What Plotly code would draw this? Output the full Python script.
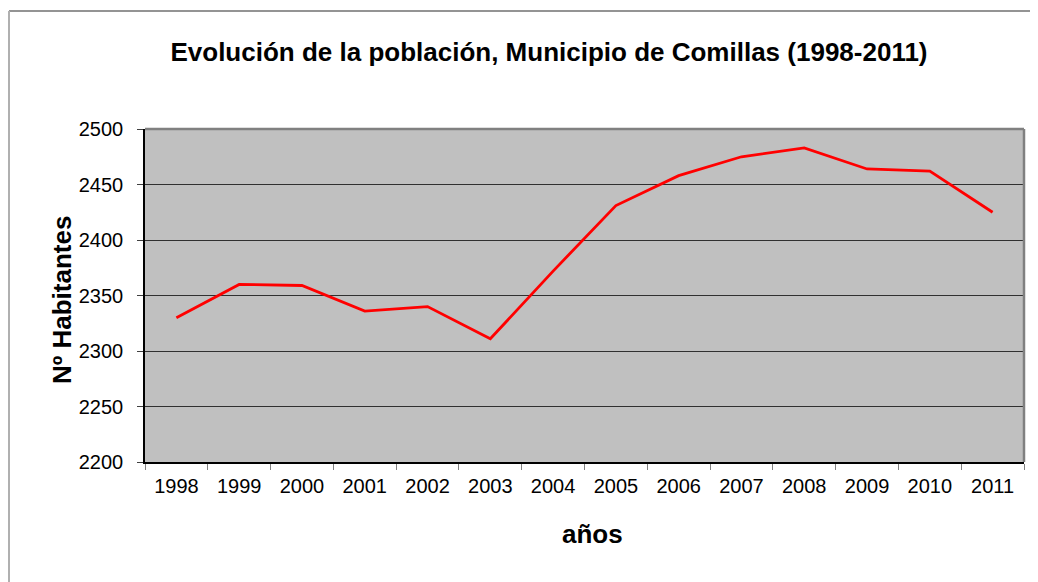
import plotly.graph_objects as go

years = ["1998", "1999", "2000", "2001", "2002", "2003", "2004",
         "2005", "2006", "2007", "2008", "2009", "2010", "2011"]
population = [2330, 2360, 2359, 2336, 2340, 2311, 2372,
              2431, 2458, 2475, 2483, 2464, 2462, 2425]
y_ticks = [2200, 2250, 2300, 2350, 2400, 2450, 2500]

# page body has an 8px margin, so figure coords = page coords - 8
OFF = 8
W, H = 1038 - OFF, 582 - OFF
L, R, T = 145 - OFF, 14, 129 - OFF
B = H - (462 - OFF)
pw, ph = W - L - R, H - T - B

font = "Liberation Sans, Arial, sans-serif"


def px_x(x):
    return (x - OFF - L) / pw


def px_y(y):
    return 1 - (y - OFF - T) / ph


fig = go.Figure()
fig.add_trace(go.Scatter(
    x=years, y=population, mode="lines",
    line=dict(color="#ff0000", width=2.8),
    showlegend=False, hoverinfo="x+y",
))

fig.update_layout(
    width=W, height=H,
    margin=dict(l=L, r=R, t=T, b=B, autoexpand=False),
    paper_bgcolor="white",
    plot_bgcolor="#c0c0c0",
    font=dict(family=font, size=20, color="black"),
    title=dict(text="<b>Evolución de la población, Municipio de Comillas (1998-2011)</b>",
               x=(549 - OFF) / W, xanchor="center",
               y=1 - (52 - OFF) / H, yanchor="middle",
               font=dict(size=26, family=font)),
    xaxis=dict(
        type="category", range=[-0.5, 13.5], tickson="boundaries",
        ticks="outside", ticklen=6, tickcolor="#808080", tickwidth=1,
        showgrid=False, showline=True, linecolor="black", linewidth=1.5,
        tickfont=dict(size=20), ticklabelstandoff=5,
    ),
    yaxis=dict(
        range=[2200, 2500], tickvals=y_ticks, ticks="outside", ticklen=6,
        tickcolor="#404040", showgrid=True, gridcolor="#303030", gridwidth=1,
        showline=True, linecolor="black", linewidth=1.5, zeroline=False,
        tickfont=dict(size=20), ticklabelstandoff=10,
    ),
    annotations=[
        dict(text="<b>Nº Habitantes</b>", xref="paper", yref="paper",
             x=px_x(62), y=px_y(300), xanchor="center", yanchor="middle",
             textangle=-90, showarrow=False, font=dict(size=26)),
        dict(text="<b>años</b>", xref="paper", yref="paper",
             x=px_x(592), y=px_y(534), xanchor="center", yanchor="middle",
             showarrow=False, font=dict(size=26)),
    ],
    shapes=[
        # plot top and right border
        dict(type="line", xref="paper", yref="paper", x0=0, x1=1, y0=1, y1=1,
             line=dict(color="#808080", width=2.5)),
        dict(type="line", xref="paper", yref="paper", x0=1, x1=1, y0=0, y1=1,
             line=dict(color="#808080", width=2.5)),
        # outer chart border (top and left)
        dict(type="line", xref="paper", yref="paper",
             x0=px_x(OFF + 1), x1=px_x(1045), y0=px_y(11), y1=px_y(11),
             line=dict(color="#707070", width=1.5)),
        dict(type="line", xref="paper", yref="paper",
             x0=px_x(OFF + 1), x1=px_x(OFF + 1), y0=px_y(11), y1=px_y(600),
             line=dict(color="#b0b0b0", width=2)),
    ],
)

fig.write_html("out.html")
